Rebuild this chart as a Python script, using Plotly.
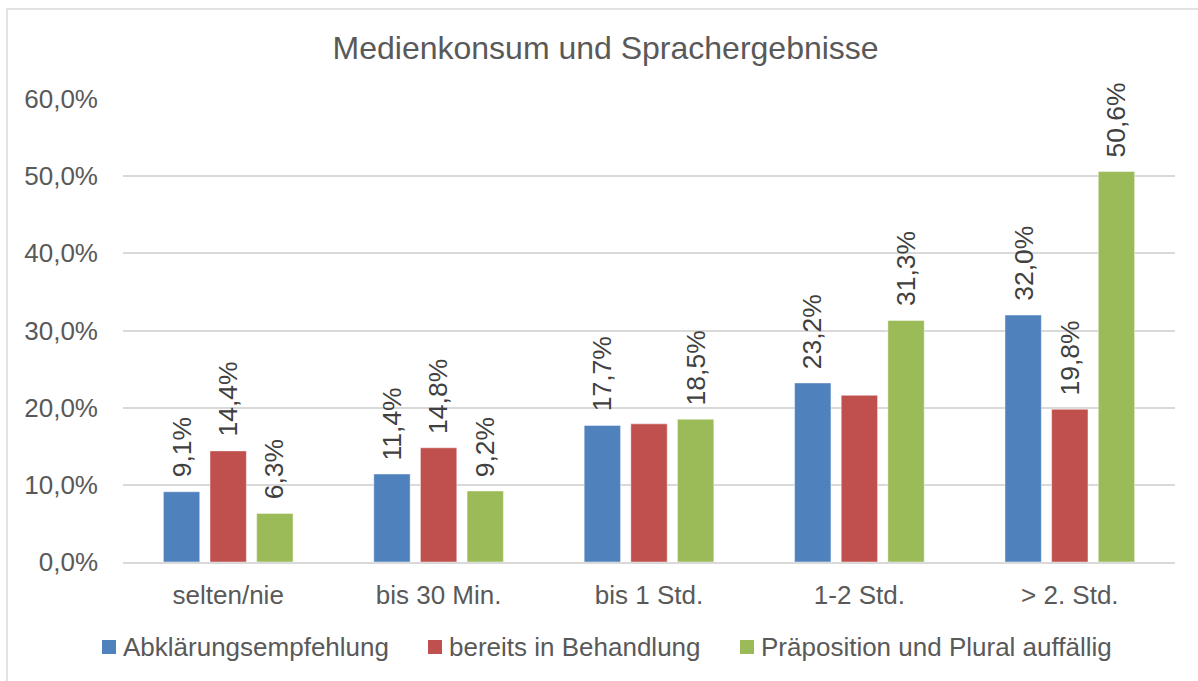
import plotly.graph_objects as go

# Media consumption categories and the three result series (percent)
categories = ["selten/nie", "bis 30 Min.", "bis 1 Std.", "1-2 Std.", "> 2. Std."]
abklaerung = [9.1, 11.4, 17.7, 23.2, 32.0]
behandlung = [14.4, 14.8, 17.9, 21.6, 19.8]
praeposition = [6.3, 9.2, 18.5, 31.3, 50.6]

# Which bars carry a value label
abklaerung_labeled = [True, True, True, True, True]
behandlung_labeled = [True, True, False, False, True]
praeposition_labeled = [True, True, True, True, True]

series_names = ["Abklärungsempfehlung", "bereits in Behandlung", "Präposition und Plural auffällig"]
series_colors = ["#4F81BD", "#C0504D", "#9BBB59"]
y_ticks = [0, 10, 20, 30, 40, 50, 60]


def pct(v):
    return f"{v:.1f}".replace(".", ",") + "%"


FONT = "Liberation Sans, Arial, sans-serif"
TXT = 26
BARGAP = 0.335
BARGROUPGAP = 0.22

# plot area in pixels (used to place the hand-drawn legend)
W, H = 1198, 681
ML, MR, MT, MB = 123, 23, 99, 119
PW, PH = W - ML - MR, H - MT - MB


def px_x(p):
    return (p - ML) / PW


def px_y(p):
    return (H - MB - p) / PH


fig = go.Figure()
all_values = [abklaerung, behandlung, praeposition]
all_labeled = [abklaerung_labeled, behandlung_labeled, praeposition_labeled]

for name, color, vals in zip(series_names, series_colors, all_values):
    fig.add_trace(go.Bar(
        x=categories, y=vals, name=name,
        marker=dict(color=color, line=dict(color="rgba(255,255,255,0.45)", width=1)),
        hoverinfo="skip", showlegend=False,
    ))

# Vertical value labels above the bars
slot = (1 - BARGAP) / len(all_values)
annotations = []
for s, (vals, labeled) in enumerate(zip(all_values, all_labeled)):
    offset = (s - (len(all_values) - 1) / 2) * slot
    for i, (v, show) in enumerate(zip(vals, labeled)):
        if not show:
            continue
        annotations.append(dict(
            x=i + offset, y=v, xref="x", yref="y",
            text=pct(v), textangle=-90, showarrow=False,
            xanchor="center", yanchor="bottom", yshift=12,
            font=dict(family=FONT, size=26.5, color="#404040"),
        ))

# Legend row below the axis: colour square followed by series name
legend_starts = [102, 428, 740]
legend_mid = 647
swatch = 14
shapes = []
for start, name, color in zip(legend_starts, series_names, series_colors):
    shapes.append(dict(
        type="rect", xref="paper", yref="paper",
        x0=px_x(start), x1=px_x(start + swatch),
        y0=px_y(legend_mid + swatch / 2), y1=px_y(legend_mid - swatch / 2),
        fillcolor=color, line=dict(width=0),
    ))
    annotations.append(dict(
        x=px_x(start + swatch + 5), y=px_y(legend_mid), xref="paper", yref="paper",
        text=name, showarrow=False, xanchor="left", yanchor="middle",
        font=dict(family=FONT, size=TXT, color="#595959"),
    ))

# Light frame around the chart
shapes.append(dict(
    type="rect", xref="paper", yref="paper",
    x0=px_x(7), x1=px_x(W + 20), y0=px_y(H + 20), y1=px_y(9),
    line=dict(color="#D9D9D9", width=1.5), layer="below",
))

fig.update_layout(
    width=W, height=H,
    paper_bgcolor="white", plot_bgcolor="white",
    margin=dict(l=ML, r=MR, t=MT, b=MB),
    barmode="group", bargap=BARGAP, bargroupgap=BARGROUPGAP,
    font=dict(family=FONT, size=TXT, color="#595959"),
    showlegend=False,
    title=dict(
        text="Medienkonsum und Sprachergebnisse",
        x=0.5055, xanchor="center", y=0.93, yanchor="middle",
        font=dict(family=FONT, size=32, color="#595959"),
    ),
    xaxis=dict(
        type="category", showgrid=False, showline=True,
        linecolor="#D9D9D9", linewidth=1.5, ticks="",
        ticklabelstandoff=9,
        tickfont=dict(family=FONT, size=TXT, color="#595959"),
    ),
    yaxis=dict(
        range=[0, 60], tickvals=y_ticks, ticktext=[pct(v) for v in y_ticks],
        showgrid=True, gridcolor="#D9D9D9", gridwidth=1.5,
        zeroline=False, showline=False, ticks="",
        ticklabelstandoff=24,
        tickfont=dict(family=FONT, size=TXT, color="#595959"),
    ),
    annotations=annotations,
    shapes=shapes,
)

fig.write_html("out.html")
